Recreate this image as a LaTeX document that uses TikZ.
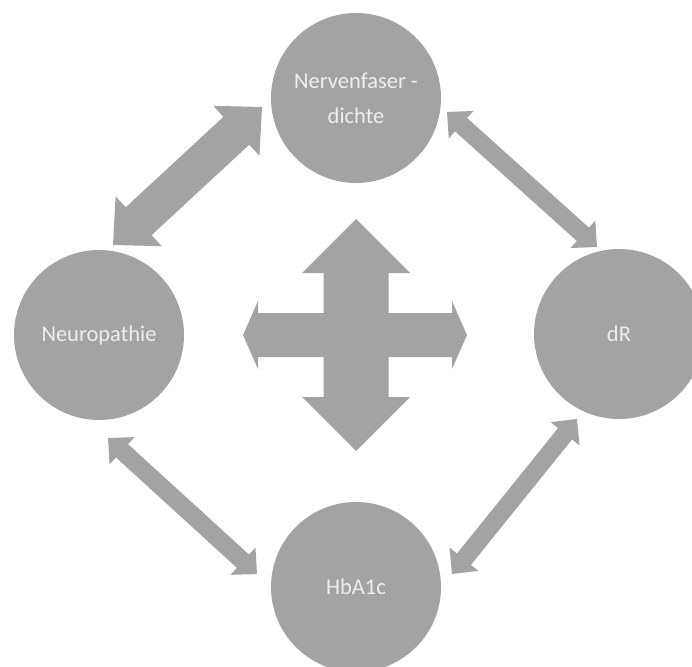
\documentclass[tikz,border=0pt]{standalone}
\usepackage{fontspec}
\setmainfont{Carlito}
\usetikzlibrary{calc}
\definecolor{bubblegray}{RGB}{163,163,163}
\definecolor{labelwhite}{RGB}{238,238,238}
% #1,#2 tips, #3 half shaft, #4 half head, #5 head length
\newcommand{\fatarrow}[5]{%
  \fill[bubblegray] (#1) -- ($(#1)!#5!(#2)!#4!90:(#2)$) -- ($(#1)!#5!(#2)!#3!90:(#2)$)
    -- ($(#2)!#5!(#1)!#3!-90:(#1)$) -- ($(#2)!#5!(#1)!#4!-90:(#1)$) -- (#2)
    -- ($(#2)!#5!(#1)!#4!90:(#1)$) -- ($(#2)!#5!(#1)!#3!90:(#1)$)
    -- ($(#1)!#5!(#2)!#3!-90:(#2)$) -- ($(#1)!#5!(#2)!#4!-90:(#2)$) -- cycle;}

\begin{document}
\begin{tikzpicture}[x=1pt, y=-1pt,
  every node/.style={font=\fontsize{22.5}{35}\selectfont, text=labelwhite},
  bubble/.style={circle, fill=bubblegray, minimum size=170pt, inner sep=0pt, align=center}]

\clip (0,0) rectangle (692,666);

\node[bubble] (nerv) at (356,98) {Nervenfaser -\\dichte};
\node[bubble] (neuro) at (99,335) {Neuropathie};
\node[bubble] (dr) at (619,334) {dR};
\node[bubble] (hba) at (356,587) {HbA1c};

\coordinate (nerv-l) at (262,107);
\coordinate (neuro-t) at (113,245);
\coordinate (nerv-r) at (447,112);
\coordinate (dr-t) at (597,247);
\coordinate (neuro-b) at (108,438);
\coordinate (hba-l) at (257,574);
\coordinate (dr-b) at (577,419);
\coordinate (hba-r) at (452,574);
\coordinate (mid-t) at (356,219);
\coordinate (mid-b) at (356,451);
\coordinate (mid-l) at (243,335);
\coordinate (mid-r) at (467,335);

\fatarrow{nerv-l}{neuro-t}{19pt}{34pt}{35pt}
\fatarrow{nerv-r}{dr-t}{9pt}{18.5pt}{19pt}
\fatarrow{neuro-b}{hba-l}{9pt}{18.5pt}{19pt}
\fatarrow{dr-b}{hba-r}{9pt}{18.5pt}{19pt}
\fatarrow{mid-l}{mid-r}{22pt}{34pt}{15pt}
\fatarrow{mid-t}{mid-b}{32.5pt}{54pt}{54pt}

\end{tikzpicture}
\end{document}
